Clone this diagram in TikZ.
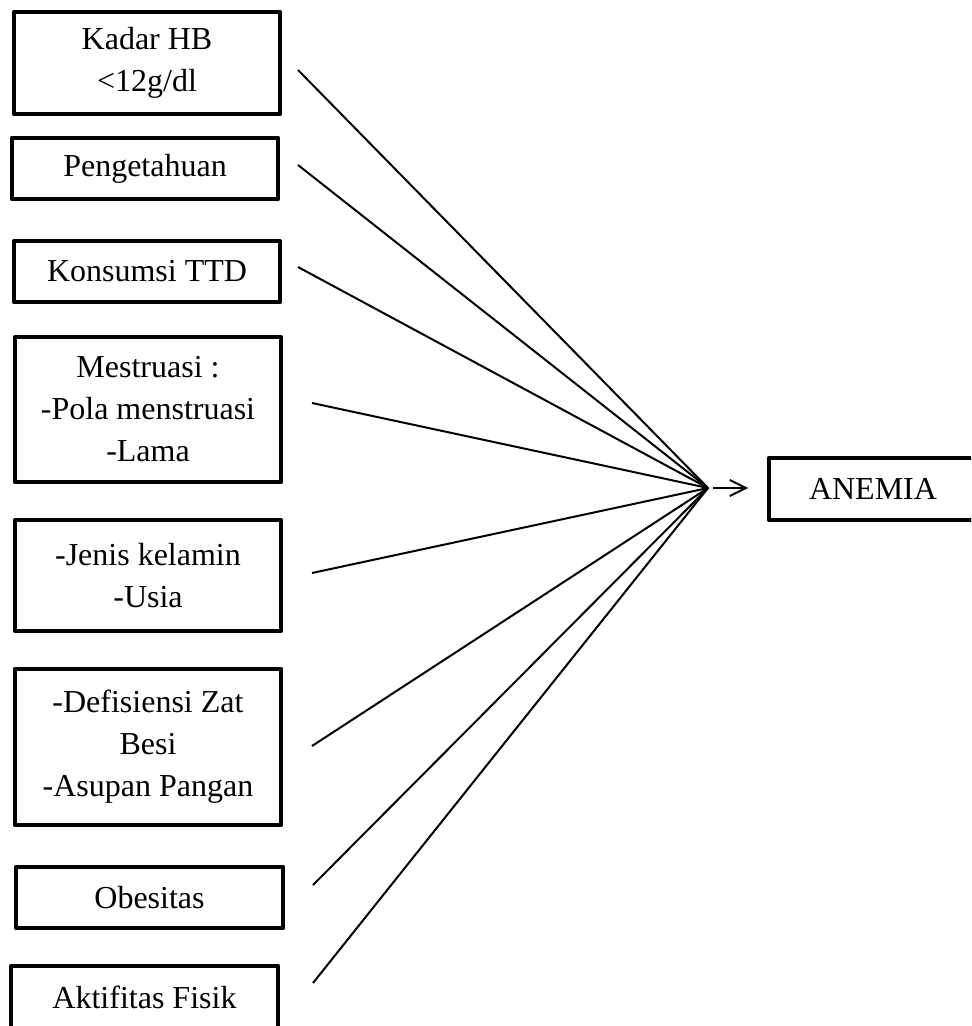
\documentclass[tikz,border=0pt]{standalone}
\usepackage{fontspec}
\setmainfont{Liberation Serif}
\usetikzlibrary{arrows.meta}
\begin{document}
\begin{tikzpicture}[x=0.5pt,y=-0.5pt,
  factor/.style={draw=black,line width=2.2pt,line join=round,inner sep=0pt,
    minimum width=133pt,align=center,font=\fontsize{16}{21}\selectfont},
  link/.style={line width=1pt}]
\clip (0,0) rectangle (971,1026);
\fill[white] (0,0) rectangle (971,1026);
\node[factor,minimum height=51pt] (a1) at (147,63) {Kadar HB\\{<}12g/dl};
\node[factor,minimum height=30.5pt] (a2) at (145,168.5) {Pengetahuan};
\node[factor,minimum height=30.5pt] (a3) at (147,271.5) {Konsumsi TTD};
\node[factor,minimum height=72.5pt] (a4) at (148,409.5) {Mestruasi :\\-Pola menstruasi\\-Lama};
\node[factor,minimum height=55.5pt] (a5) at (148,575.5) {-Jenis kelamin\\-Usia};
\node[factor,minimum height=78pt] (a6) at (148,747) {-Defisiensi Zat\\Besi\\-Asupan Pangan};
\node[factor,minimum height=30.5pt,minimum width=133.5pt] (a7) at (149.5,897.5) {Obesitas};
\node[factor,minimum height=37pt,minimum width=133.5pt,text depth=6pt] (a8) at (144.5,1003) {Aktifitas Fisik};
\node[factor,minimum height=31pt,minimum width=104pt] (out) at (873,489) {ANEMIA};
\coordinate (s1) at (298,70);
\coordinate (s2) at (298,165);
\coordinate (s3) at (298,267);
\coordinate (s4) at (312,403);
\coordinate (s5) at (312,573);
\coordinate (s6) at (312,746);
\coordinate (s7) at (313,885);
\coordinate (s8) at (313,983);
\coordinate (hub) at (708,488);
\coordinate (t0) at (713,488);
\coordinate (t1) at (748,488);
\foreach \s in {s1,s2,s3,s4,s5,s6,s7,s8}
  \draw[link] (\s) -- (hub);
\draw[link,-{Straight Barb[length=8pt,width=8pt,line width=1pt]}] (t0) -- (t1);
\end{tikzpicture}
\end{document}
